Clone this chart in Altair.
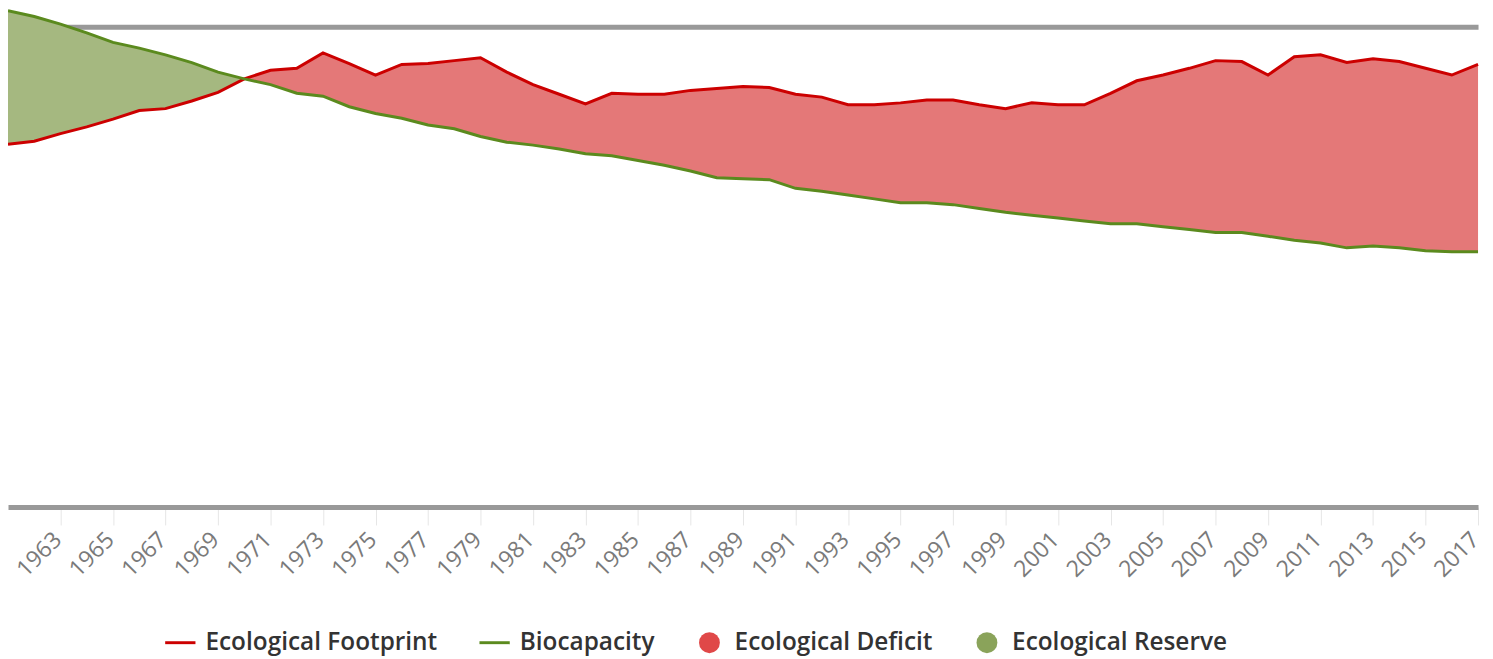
import altair as alt
import pandas as pd

years = list(range(1961, 2018))
footprint = [3.78, 3.81, 3.89, 3.96, 4.04, 4.13, 4.15, 4.23, 4.32, 4.46,
             4.55, 4.57, 4.73, 4.62, 4.50, 4.61, 4.62, 4.65, 4.68, 4.53,
             4.40, 4.30, 4.20, 4.31, 4.30, 4.30, 4.34, 4.36, 4.38, 4.37,
             4.30, 4.27, 4.19, 4.19, 4.21, 4.24, 4.24, 4.19, 4.15, 4.21,
             4.19, 4.19, 4.31, 4.44, 4.50, 4.57, 4.65, 4.64, 4.50, 4.69,
             4.71, 4.63, 4.67, 4.64, 4.57, 4.50, 4.61]
biocapacity = [5.17, 5.11, 5.03, 4.94, 4.84, 4.78, 4.71, 4.63, 4.53, 4.46,
               4.40, 4.31, 4.28, 4.17, 4.10, 4.05, 3.98, 3.94, 3.86, 3.80,
               3.77, 3.73, 3.68, 3.66, 3.61, 3.56, 3.50, 3.43, 3.42, 3.41,
               3.32, 3.29, 3.25, 3.21, 3.17, 3.17, 3.15, 3.11, 3.07, 3.04,
               3.01, 2.98, 2.95, 2.95, 2.92, 2.89, 2.86, 2.86, 2.82, 2.78,
               2.75, 2.70, 2.72, 2.70, 2.67, 2.66, 2.66]
tick_years = list(range(1963, 2018, 2))
series = ["Ecological Footprint", "Biocapacity", "Ecological Deficit", "Ecological Reserve"]
series_colors = ["#cc0000", "#5b8a1e", "#e04848", "#8aa35a"]
bar_path = "M-1.45,-0.14L1.45,-0.14L1.45,0.14L-1.45,0.14Z"
series_shapes = [bar_path, bar_path, "circle", "circle"]

df = pd.DataFrame({"year": years, "footprint": footprint, "biocapacity": biocapacity})
legend_df = pd.DataFrame({"series": series})

x_enc = alt.X(
    "year:Q",
    scale=alt.Scale(domain=[1961, 2017], nice=False, zero=False),
    axis=alt.Axis(
        values=tick_years, format="d", title=None, grid=False,
        labelAngle=-45, labelAlign="right", labelBaseline="middle",
        labelFlush=False, labelOverlap=False, labelPadding=11, labelOffset=-3,
        labelFont="Open Sans", labelFontSize=23, labelColor="#7a7a7a",
        domainColor="#999999", domainWidth=5,
        tickColor="#e6e6e6", tickSize=18, tickWidth=1,
    ),
)
y_scale = alt.Scale(domain=[0, 5.18], nice=False, zero=True)
y_axis = alt.Axis(values=[5], grid=True, gridColor="#999999", gridWidth=5,
                  labels=False, ticks=False, domain=False, title=None,
                  minExtent=0, maxExtent=0)

base = alt.Chart(df).encode(x=x_enc)

reserve = base.transform_calculate(
    lo="min(datum.footprint, datum.biocapacity)"
).mark_area(color="#a5b880", opacity=1).encode(
    y=alt.Y("biocapacity:Q", scale=y_scale, axis=y_axis),
    y2="lo:Q",
)

deficit = base.transform_calculate(
    hi="max(datum.footprint, datum.biocapacity)"
).mark_area(color="#e47878", opacity=1).encode(
    y=alt.Y("hi:Q"),
    y2="biocapacity:Q",
)

fp_line = base.mark_line(color="#cc0000", strokeWidth=3).encode(y="footprint:Q")
bio_line = base.mark_line(color="#5b8a1e", strokeWidth=3).encode(y="biocapacity:Q")

leg = alt.Legend(
    title=None, orient="none", direction="horizontal",
    legendX=161, legendY=624, padding=0,
    symbolSize=441, symbolOpacity=1, symbolStrokeWidth=0,
    labelFont="Open Sans", labelFontSize=24.5, labelFontWeight=600,
    labelColor="#333333", labelOffset=13, columnPadding=42, labelLimit=0,
)

legend_layer = alt.Chart(legend_df).mark_point(filled=True, opacity=0).encode(
    color=alt.Color("series:N", scale=alt.Scale(domain=series, range=series_colors),
                    legend=leg, sort=series),
    shape=alt.Shape("series:N", scale=alt.Scale(domain=series, range=series_shapes),
                    legend=leg, sort=series),
)

chart = alt.layer(reserve, deficit, fp_line, bio_line, legend_layer).properties(
    width=1478, height=500,
    padding={"left": 0, "top": 0, "right": 7, "bottom": 150},
    autosize=alt.AutoSizeParams(type="none"),
).configure_view(stroke=None)

chart.save("out.html", embed_options={"renderer": "svg", "actions": False})
